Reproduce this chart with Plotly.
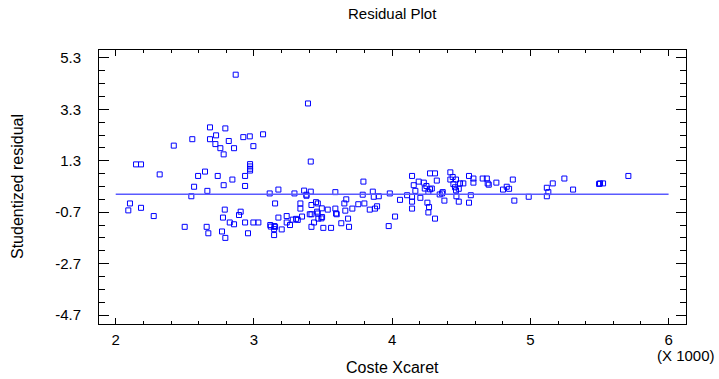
import plotly.graph_objects as go

# Coste Xcaret (X 1000) and studentized residuals
coste_x = [
    2.868, 2.682, 2.793, 2.726, 2.554, 2.682, 2.818, 2.923, 2.970, 2.420,
    2.721, 2.757, 2.856, 2.781, 2.147, 2.183, 2.318, 2.646, 2.596, 2.738,
    2.844, 2.936, 2.781, 2.936, 2.567, 2.663, 2.547, 2.972, 2.972, 2.972,
    2.972, 2.996, 3.066,
    2.103, 2.091, 2.183, 2.275, 2.499, 2.658, 2.670, 2.769, 2.793, 2.789,
    2.776, 2.825, 2.856, 2.892, 2.904, 2.936, 2.957, 2.996, 3.032,
    3.391, 3.411, 3.114, 3.177, 3.293, 3.363, 3.411, 3.380, 3.380, 3.589,
    3.792, 3.787, 3.860, 3.867, 3.903, 3.983,
    3.153, 3.118, 3.122, 3.148, 3.146, 3.153, 3.146, 3.177, 3.201, 3.237,
    3.237, 3.261, 3.281, 3.305, 3.317, 3.348, 3.336, 3.336, 3.416, 3.449,
    3.462, 3.457, 3.404, 3.416, 3.462, 3.491, 3.493, 3.488, 3.466, 3.435,
    3.416, 3.502, 3.534, 3.558, 3.589, 3.594, 3.599, 3.632, 3.654, 3.668,
    3.661, 3.681, 3.688, 3.712, 3.755, 3.799, 3.838, 3.876, 3.891, 3.975,
    4.021, 4.057, 4.108, 4.144, 4.156, 4.168, 4.144, 4.144, 4.144, 4.192,
    4.204, 4.229, 4.236, 4.248, 4.262, 4.274, 4.274, 4.287, 4.310, 4.323,
    4.255, 4.267, 4.262, 4.310, 4.344, 4.361, 4.366, 4.378, 4.421, 4.421,
    4.438, 4.443, 4.455, 4.462, 4.462, 4.482, 4.491, 4.515, 4.465, 4.482,
    4.556, 4.588, 4.588, 4.569, 4.556, 4.655, 4.685, 4.691, 4.699, 4.754,
    4.802, 4.829, 4.846, 4.873, 4.884, 4.988,
    5.119, 5.130, 5.119, 5.162, 5.246, 5.309, 5.497, 5.504, 5.526, 5.709,
]
stud_resid = [
    4.65, 2.60, 2.56, 2.29, 2.14, 2.14, 2.07, 2.22, 2.25, 1.89,
    1.95, 1.79, 1.79, 1.55, 1.16, 1.16, 0.77, 0.88, 0.71, 0.71,
    0.57, 0.71, 0.35, 0.32, 0.29, 0.13, -0.08, 1.17, 1.08, 0.99,
    0.92, 1.87, 2.33,
    -0.36, -0.63, -0.53, -0.85, -1.27, -1.27, -1.52, -1.45, -1.70, -0.60,
    -0.91, -1.10, -1.17, -0.81, -0.68, -1.10, -1.52, -1.10, -1.10,
    3.53, 1.27, 0.03, 0.18, 0.03, 0.14, 0.10, -0.02, -0.06, 0.08,
    0.49, -0.02, 0.10, -0.10, -0.08, 0.03,
    -0.36, -1.20, -1.26, -1.24, -1.36, -1.27, -1.59, -0.91, -1.37, -0.85,
    -1.10, -1.20, -0.99, -0.96, -1.00, -0.87, -0.36, -0.56, -0.42, -0.31,
    -0.36, -0.68, -0.78, -0.78, -0.75, -0.55, -0.89, -0.94, -0.95, -1.10,
    -1.27, -1.31, -0.60, -1.31, -0.56, -0.75, -0.78, -1.13, -0.36, -0.20,
    -0.64, -0.95, -1.27, -0.56, -0.39, -0.36, -0.60, -0.56, -0.47, -1.24,
    -0.87, -0.22, -0.04, 0.71, 0.35, 0.13, -0.10, -0.29, -0.56, 0.49,
    -0.14, 0.45, 0.22, 0.32, 0.09, 0.81, 0.19, 0.22, 0.81, 0.53,
    -0.33, -0.50, -0.71, -0.95, -0.01, 0.03, 0.08, -0.25, 0.85, 0.57,
    0.67, 0.39, 0.27, 0.57, 0.15, 0.21, 0.42, 0.42, -0.08, -0.29,
    0.71, 0.61, 0.45, -0.04, -0.33, 0.61, 0.61, 0.42, 0.37, 0.45,
    0.18, 0.29, 0.21, 0.57, -0.25, -0.10,
    0.25, 0.08, -0.08, 0.42, 0.61, 0.18, 0.40, 0.42, 0.42, 0.71,
]

y_tick_vals = [-4.7, -2.7, -0.7, 1.3, 3.3, 5.3]
y_tick_text = ["-4.7", "-2.7", "-0.7", "1.3", "3.3", "5.3"]
x_tick_vals = [2, 3, 4, 5, 6]
x_tick_text = ["2", "3", "4", "5", "6"]
zero_line_x = [2, 6]
zero_line_y = 0

FONT = "Liberation Sans, Arial, sans-serif"

fig = go.Figure()
fig.add_trace(go.Scatter(
    x=coste_x, y=stud_resid, mode="markers",
    marker=dict(symbol="square-open", size=5, color="#0000ff",
                line=dict(width=1, color="#0000ff")),
    showlegend=False, hoverinfo="x+y",
))

fig.add_shape(type="line", xref="x", yref="y",
              x0=zero_line_x[0], x1=zero_line_x[1], y0=zero_line_y, y1=zero_line_y,
              line=dict(color="#5a5aff", width=1.5))

fig.update_layout(
    width=719, height=379,
    margin=dict(l=99, r=33, t=50, b=55),
    paper_bgcolor="white", plot_bgcolor="white",
    font=dict(family=FONT, size=15, color="black"),
    xaxis=dict(
        range=[1.879, 6.126], tickvals=x_tick_vals, ticktext=x_tick_text,
        showgrid=False, zeroline=False, showline=True, linecolor="black",
        linewidth=1, mirror="allticks", ticks="inside", ticklen=6,
        tickcolor="black", ticklabelstandoff=2,
        minor=dict(tick0=2, dtick=0.2, ticks="inside", ticklen=3, tickcolor="black"),
    ),
    yaxis=dict(
        range=[-5.05, 5.61], tickvals=y_tick_vals, ticktext=y_tick_text,
        showgrid=False, zeroline=False, showline=True, linecolor="black",
        linewidth=1, mirror="allticks", ticks="inside", ticklen=10,
        tickcolor="black", ticklabelstandoff=14,
        minor=dict(tick0=-4.7, dtick=0.5, ticks="inside", ticklen=6, tickcolor="black"),
    ),
    annotations=[
        dict(text="Residual Plot", xref="paper", yref="paper", x=0.5, y=1,
             yshift=37, showarrow=False, xanchor="center", yanchor="middle",
             font=dict(size=15)),
        dict(text="Coste Xcaret", xref="paper", yref="paper", x=0.5, y=0,
             yshift=-43, showarrow=False, xanchor="center", yanchor="middle",
             font=dict(size=16)),
        dict(text="(X 1000)", xref="paper", yref="paper", x=1, y=0,
             yshift=-31, showarrow=False, xanchor="center", yanchor="middle",
             font=dict(size=15)),
        dict(text="Studentized residual", xref="paper", yref="paper", x=0, y=0.5,
             xshift=-82, textangle=-90, showarrow=False, xanchor="center",
             yanchor="middle", font=dict(size=16)),
    ],
)

fig.write_html("out.html")
